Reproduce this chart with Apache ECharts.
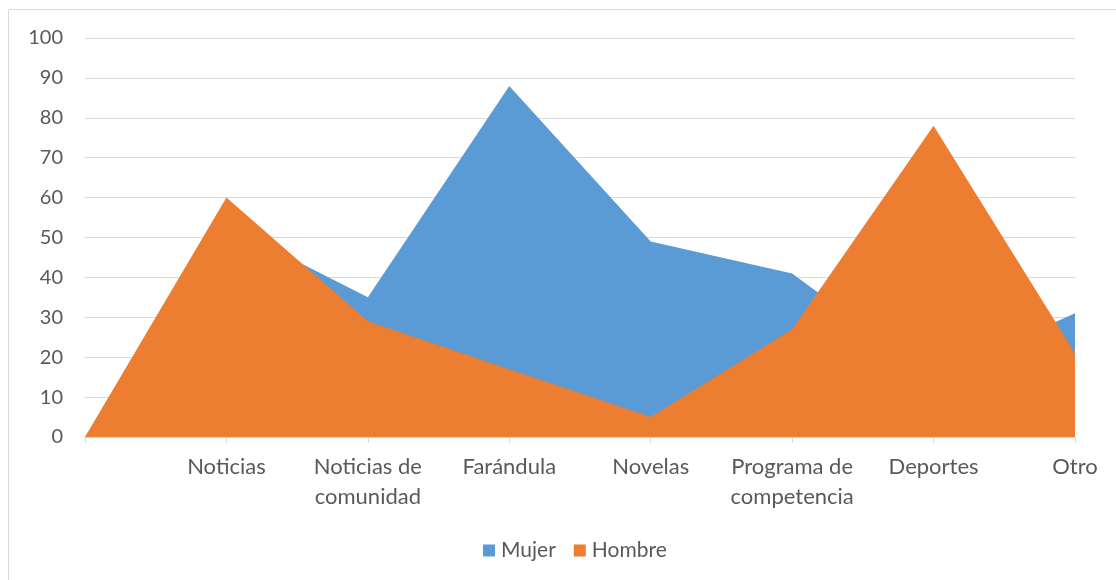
<!DOCTYPE html>
<html lang="es">
<head>
    <meta charset="UTF-8">
    <title>Mujer / Hombre</title>
    <script src="https://cdn.jsdelivr.net/npm/echarts@6.0.0/dist/echarts.min.js"></script>
    <style>
        html, body { margin: 0; padding: 0; background: #fff; }
        #chart { width: 1116px; height: 580px; }
    </style>
</head>
<body>
<div id="chart"></div>
<script>
// datos
const categorias = ['', 'Noticias', 'Noticias de\ncomunidad', 'Farándula', 'Novelas', 'Programa de\ncompetencia', 'Deportes', 'Otro'];
const mujer = [0, 53, 35, 88, 49, 41, 15, 31];
const hombre = [0, 60, 29, 17, 5, 27, 78, 21];
const yTicks = { min: 0, max: 100, interval: 10 };

const gris = '#d9d9d9';
const texto = '#595959';
const fuente = 'Lato';

const chart = echarts.init(document.getElementById('chart'));

chart.setOption({
    animation: false,
    textStyle: { fontFamily: fuente },
    graphic: [{
        type: 'rect',
        shape: { x: 8.5, y: 9.5, width: 1200, height: 700 },
        style: { fill: 'none', stroke: gris, lineWidth: 1 },
        silent: true
    }],
    grid: { left: 85, right: 41, top: 38, bottom: 143 },
    legend: {
        bottom: 14,
        left: 478,
        icon: 'rect',
        itemWidth: 12,
        itemHeight: 12,
        itemGap: 18,
        textStyle: { color: texto, fontSize: 21, fontFamily: fuente, padding: [0, 0, 0, 1] },
        data: ['Mujer', 'Hombre']
    },
    xAxis: {
        type: 'category',
        data: categorias,
        boundaryGap: false,
        axisLine: { lineStyle: { color: gris } },
        axisTick: { show: true, length: 6, lineStyle: { color: gris } },
        axisLabel: {
            color: texto, fontSize: 22, fontFamily: fuente,
            lineHeight: 30, margin: 15, interval: 0
        },
        splitLine: { show: false }
    },
    yAxis: {
        type: 'value',
        min: yTicks.min,
        max: yTicks.max,
        interval: yTicks.interval,
        axisLine: { show: false },
        axisTick: { show: false },
        axisLabel: { color: texto, fontSize: 20, fontFamily: fuente, margin: 22 },
        splitLine: { lineStyle: { color: gris } }
    },
    series: [
        {
            name: 'Mujer',
            type: 'line',
            data: mujer,
            symbol: 'none',
            lineStyle: { width: 0 },
            itemStyle: { color: '#5B9BD5' },
            areaStyle: { color: '#5B9BD5', opacity: 1 }
        },
        {
            name: 'Hombre',
            type: 'line',
            data: hombre,
            symbol: 'none',
            lineStyle: { width: 0 },
            itemStyle: { color: '#ED7D31' },
            areaStyle: { color: '#ED7D31', opacity: 1 }
        }
    ]
});
</script>
</body>
</html>
